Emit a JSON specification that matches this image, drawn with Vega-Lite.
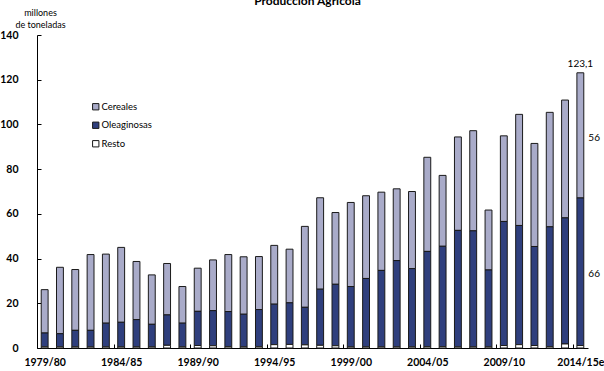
{
  "$schema": "https://vega.github.io/schema/vega-lite/v6.json",
  "autosize": "none",
  "width": 551,
  "height": 313,
  "padding": {"left": 37, "top": 35, "right": 16, "bottom": 23},
  "background": "white",
  "title": {
    "text": "Producción Agrícola",
    "font": "Lato",
    "fontSize": 12,
    "fontWeight": "bold",
    "color": "black",
    "anchor": "middle",
    "baseline": "alphabetic",
    "offset": -9,
    "dx": -5
  },
  "data": {
    "values": [
      {"campaña": "1979/80", "Cereales": 19.4, "Oleaginosas": 6.2, "Resto": 0.5},
      {"campaña": "1980/81", "Cereales": 29.7, "Oleaginosas": 5.9, "Resto": 0.5},
      {"campaña": "1981/82", "Cereales": 27.2, "Oleaginosas": 7.4, "Resto": 0.5},
      {"campaña": "1982/83", "Cereales": 33.9, "Oleaginosas": 7.4, "Resto": 0.5},
      {"campaña": "1983/84", "Cereales": 30.9, "Oleaginosas": 10.6, "Resto": 0.5},
      {"campaña": "1984/85", "Cereales": 33.5, "Oleaginosas": 11.0, "Resto": 0.5},
      {"campaña": "1985/86", "Cereales": 26.0, "Oleaginosas": 12.2, "Resto": 0.5},
      {"campaña": "1986/87", "Cereales": 22.1, "Oleaginosas": 10.1, "Resto": 0.5},
      {"campaña": "1987/88", "Cereales": 23.0, "Oleaginosas": 13.6, "Resto": 1.2},
      {"campaña": "1988/89", "Cereales": 16.4, "Oleaginosas": 10.6, "Resto": 0.5},
      {"campaña": "1989/90", "Cereales": 19.3, "Oleaginosas": 15.3, "Resto": 1.1},
      {"campaña": "1990/91", "Cereales": 22.7, "Oleaginosas": 15.7, "Resto": 1.0},
      {"campaña": "1991/92", "Cereales": 25.5, "Oleaginosas": 15.7, "Resto": 0.6},
      {"campaña": "1992/93", "Cereales": 25.7, "Oleaginosas": 14.6, "Resto": 0.5},
      {"campaña": "1993/94", "Cereales": 23.7, "Oleaginosas": 16.6, "Resto": 0.6},
      {"campaña": "1994/95", "Cereales": 26.3, "Oleaginosas": 18.1, "Resto": 1.5},
      {"campaña": "1995/96", "Cereales": 24.0, "Oleaginosas": 18.6, "Resto": 1.6},
      {"campaña": "1996/97", "Cereales": 36.2, "Oleaginosas": 16.8, "Resto": 1.4},
      {"campaña": "1997/98", "Cereales": 40.9, "Oleaginosas": 25.1, "Resto": 1.2},
      {"campaña": "1998/99", "Cereales": 32.1, "Oleaginosas": 27.5, "Resto": 1.0},
      {"campaña": "1999/00", "Cereales": 37.6, "Oleaginosas": 27.0, "Resto": 0.5},
      {"campaña": "2000/01", "Cereales": 37.0, "Oleaginosas": 30.6, "Resto": 0.5},
      {"campaña": "2001/02", "Cereales": 35.0, "Oleaginosas": 34.2, "Resto": 0.5},
      {"campaña": "2002/03", "Cereales": 32.1, "Oleaginosas": 38.6, "Resto": 0.5},
      {"campaña": "2003/04", "Cereales": 34.5, "Oleaginosas": 35.0, "Resto": 0.5},
      {"campaña": "2004/05", "Cereales": 42.1, "Oleaginosas": 42.6, "Resto": 0.6},
      {"campaña": "2005/06", "Cereales": 31.7, "Oleaginosas": 44.9, "Resto": 0.6},
      {"campaña": "2006/07", "Cereales": 41.8, "Oleaginosas": 52.1, "Resto": 0.5},
      {"campaña": "2007/08", "Cereales": 44.8, "Oleaginosas": 51.9, "Resto": 0.5},
      {"campaña": "2008/09", "Cereales": 26.8, "Oleaginosas": 34.4, "Resto": 0.5},
      {"campaña": "2009/10", "Cereales": 38.3, "Oleaginosas": 55.5, "Resto": 1.1},
      {"campaña": "2010/11", "Cereales": 49.7, "Oleaginosas": 53.3, "Resto": 1.5},
      {"campaña": "2011/12", "Cereales": 46.1, "Oleaginosas": 44.3, "Resto": 1.1},
      {"campaña": "2012/13", "Cereales": 51.2, "Oleaginosas": 53.6, "Resto": 0.6},
      {"campaña": "2013/14", "Cereales": 52.7, "Oleaginosas": 56.4, "Resto": 1.8},
      {"campaña": "2014/15e", "Cereales": 56, "Oleaginosas": 66, "Resto": 1.1}
    ]
  },
  "transform": [
    {"fold": ["Cereales", "Oleaginosas", "Resto"], "as": ["tipo", "millones"]}
  ],
  "encoding": {
    "x": {
      "field": "campaña",
      "type": "nominal",
      "sort": null,
      "title": null,
      "scale": {"paddingInner": 0.55, "paddingOuter": 0.275},
      "axis": {
        "values": ["1979/80", "1984/85", "1989/90", "1994/95", "1999/00", "2004/05", "2009/10", "2014/15e"],
        "labelAngle": 0,
        "labelFont": "Lato",
        "labelFontSize": 10.5,
        "labelFontWeight": "bold",
        "labelColor": "black",
        "labelPadding": 13,
        "labelOverlap": false,
        "labelBound": false,
        "labelFlush": false,
        "tickSize": -4,
        "tickOffset": -7.65,
        "labelOffset": 7.65,
        "tickColor": "black",
        "domainColor": "black",
        "grid": false
      }
    }
  },
  "layer": [
    {
      "mark": {"type": "bar", "stroke": "#1a1a1a", "strokeWidth": 1},
      "encoding": {
        "y": {
          "field": "millones",
          "type": "quantitative",
          "stack": "zero",
          "scale": {"domain": [0, 140], "nice": false},
          "title": ["millones", "de toneladas"],
          "axis": {
            "values": [0, 20, 40, 60, 80, 100, 120, 140],
            "grid": false,
            "tickSize": -4,
            "tickColor": "black",
            "domainColor": "black",
            "labelFont": "Lato",
            "labelFontSize": 10.5,
            "labelFontWeight": "bold",
            "labelColor": "black",
            "labelPadding": 23,
            "titleFont": "Lato",
            "titleFontSize": 9,
            "titleFontWeight": "normal",
            "titleColor": "black",
            "titleAngle": 0,
            "titleAlign": "center",
            "titleBaseline": "alphabetic",
            "titleLineHeight": 12.5,
            "titleX": 3,
            "titleY": -20
          }
        },
        "color": {
          "field": "tipo",
          "type": "nominal",
          "title": null,
          "scale": {
            "domain": ["Cereales", "Oleaginosas", "Resto"],
            "range": ["#a9abc9", "#2f3f7d", "#ffffff"]
          },
          "legend": {
            "orient": "none",
            "legendX": 54,
            "legendY": 67,
            "padding": 0,
            "symbolType": "square",
            "symbolSize": 40,
            "symbolStrokeColor": "#1a1a1a",
            "symbolStrokeWidth": 1,
            "symbolOpacity": 1,
            "labelFont": "Lato",
            "labelFontSize": 9.5,
            "labelColor": "black",
            "labelOffset": 1,
            "rowPadding": 7.5
          }
        },
        "order": {"field": "tipo", "sort": "descending"}
      }
    },
    {
      "transform": [
        {"filter": "datum['campaña'] === '2014/15e' && datum.tipo !== 'Resto'"}
      ],
      "mark": {"type": "text", "align": "left", "baseline": "middle", "dx": 8, "font": "Lato", "fontSize": 10, "color": "black"},
      "encoding": {
        "y": {"field": "millones", "type": "quantitative", "stack": "zero", "bandPosition": 0.5},
        "text": {"field": "millones", "type": "quantitative", "format": ".0f"},
        "order": {"field": "tipo", "sort": "descending"}
      }
    },
    {
      "transform": [
        {"filter": "datum['campaña'] === '2014/15e'"},
        {"aggregate": [{"op": "sum", "field": "millones", "as": "total"}], "groupby": ["campaña"]}
      ],
      "mark": {"type": "text", "align": "center", "baseline": "alphabetic", "dy": -6, "font": "Lato", "fontSize": 10, "color": "black"},
      "encoding": {
        "y": {"field": "total", "type": "quantitative"},
        "text": {"field": "total", "type": "quantitative", "format": ".1f"}
      }
    }
  ],
  "config": {
    "view": {"stroke": null},
    "locale": {
      "number": {"decimal": ",", "thousands": ".", "grouping": [3], "currency": ["", " €"]}
    }
  }
}
